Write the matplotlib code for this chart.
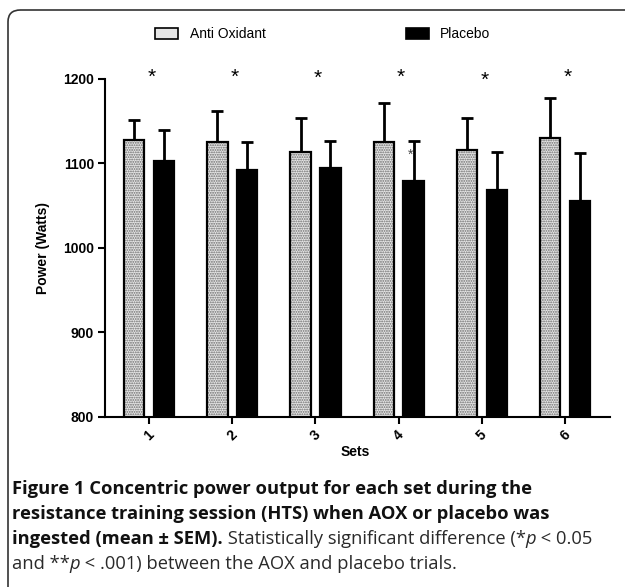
import numpy as np
import matplotlib.pyplot as plt
from matplotlib.patches import Rectangle, FancyBboxPatch

# values (Watts)
sets = ['1', '2', '3', '4', '5', '6']
aox_mean = [1128, 1125, 1114, 1125, 1116, 1130]
aox_sem = [23, 37, 40, 47, 38, 47]
placebo_mean = [1103, 1092, 1095, 1079, 1068, 1056]
placebo_sem = [36, 33, 32, 48, 45, 56]
legend_labels = ['Anti Oxidant', 'Placebo']
star_y = [1202, 1202, 1201, 1202, 1198, 1202]

plt.rcParams['font.family'] = ['Liberation Sans', 'DejaVu Sans']
plt.rcParams['hatch.linewidth'] = 0.9

fig = plt.figure(figsize=(6.25, 5.87), dpi=100)
W, H = 625.0, 587.0

# rounded frame round the whole panel
frame = FancyBboxPatch((8 / W, -0.2), 1.2, 1.2 - 10 / H,
                       boxstyle='round,pad=0,rounding_size=0.02',
                       transform=fig.transFigure, fill=False,
                       edgecolor='#333333', linewidth=1.2)
fig.add_artist(frame)

ax = fig.add_axes([105 / W, 1 - 416.7 / H, 505 / W, (416.7 - 79) / H])

x = np.arange(len(sets))
w = 0.245
off = 0.18
stipple = dict(color='#e6e6e6', edgecolor='#6a6a6a', hatch='.......', linewidth=0)

# stippled bars: hatch layer then black outline
ax.bar(x - off, aox_mean, w, zorder=2, **stipple)
ax.bar(x - off, aox_mean, w, fill=False, edgecolor='black', linewidth=1.6, zorder=3)
ax.bar(x + off, placebo_mean, w, color='black', edgecolor='black', linewidth=1.6, zorder=3)

ax.errorbar(x - off, aox_mean, yerr=[np.zeros(6), aox_sem], fmt='none',
            ecolor='black', elinewidth=2, capsize=4.5, capthick=2, zorder=1)
ax.errorbar(x + off, placebo_mean, yerr=[np.zeros(6), placebo_sem], fmt='none',
            ecolor='black', elinewidth=2, capsize=4.5, capthick=2, zorder=1)

for i in range(len(sets)):
    ax.text(x[i] + 0.03, star_y[i], '*', ha='center', va='center',
            fontsize=15, clip_on=False)
ax.text(x[3] + off - 0.04, 1110, '*', ha='center', va='center',
        fontsize=10, color='#444444')

ax.set_ylim(800, 1200)
ax.set_xlim(-0.53, 5.54)
ax.set_yticks([800, 900, 1000, 1100, 1200])
ax.set_xticks(x)
ax.set_xticklabels(sets, rotation=45, fontweight='bold', fontsize=10)
for lab in ax.get_yticklabels():
    lab.set_fontweight('bold')
    lab.set_fontsize(10)
ax.tick_params(axis='both', direction='out', length=5, width=1.5, pad=3)
ax.spines['top'].set_visible(False)
ax.spines['right'].set_visible(False)
ax.spines['left'].set_linewidth(1.5)
ax.spines['bottom'].set_linewidth(1.5)

fig.text(355 / W, 1 - 452 / H, 'Sets', ha='center', va='center',
         fontsize=10, fontweight='bold')
fig.text(43 / W, 1 - 248 / H, 'Power (Watts)', ha='center', va='center',
         rotation=90, fontsize=10, fontweight='bold')

# legend drawn by hand
fig.add_artist(Rectangle((155 / W, 1 - 39 / H), 23 / W, 11 / H,
                         transform=fig.transFigure, **stipple))
fig.add_artist(Rectangle((155 / W, 1 - 39 / H), 23 / W, 11 / H, transform=fig.transFigure,
                         fill=False, edgecolor='black', linewidth=1.2))
fig.add_artist(Rectangle((406 / W, 1 - 39 / H), 23 / W, 11 / H, transform=fig.transFigure,
                         facecolor='black', edgecolor='black', linewidth=1.2))
fig.text(190 / W, 1 - 33.5 / H, legend_labels[0], va='center', fontsize=10)
fig.text(440 / W, 1 - 33.5 / H, legend_labels[1], va='center', fontsize=10)

# caption
cap_font = ['Open Sans', 'DejaVu Sans']
cap_size = 13.2
bold = dict(fontweight='bold', color='#111111')
reg = dict(color='#2a2a2a')
ital = dict(color='#2a2a2a', style='italic')
lines = [
    [('Figure 1 Concentric power output for each set during the', bold)],
    [('resistance training session (HTS) when AOX or placebo was', bold)],
    [('ingested (mean \u00b1 SEM).', bold), (' Statistically significant difference (*', reg),
     ('p', ital), (' < 0.05', reg)],
    [('and **', reg), ('p', ital), (' < .001) between the AOX and placebo trials.', reg)],
]
line_y = [489, 514, 539, 564]
for pieces, ly in zip(lines, line_y):
    s, kw = pieces[0]
    t = fig.text(12 / W, 1 - ly / H, s, va='center', ha='left',
                 family=cap_font, fontsize=cap_size, **kw)
    for s, kw in pieces[1:]:
        t = ax.annotate(s, xy=(1, 0.5), xycoords=t, va='center', ha='left',
                        family=cap_font, fontsize=cap_size, annotation_clip=False, **kw)

fig.savefig('out.png', dpi=100)
